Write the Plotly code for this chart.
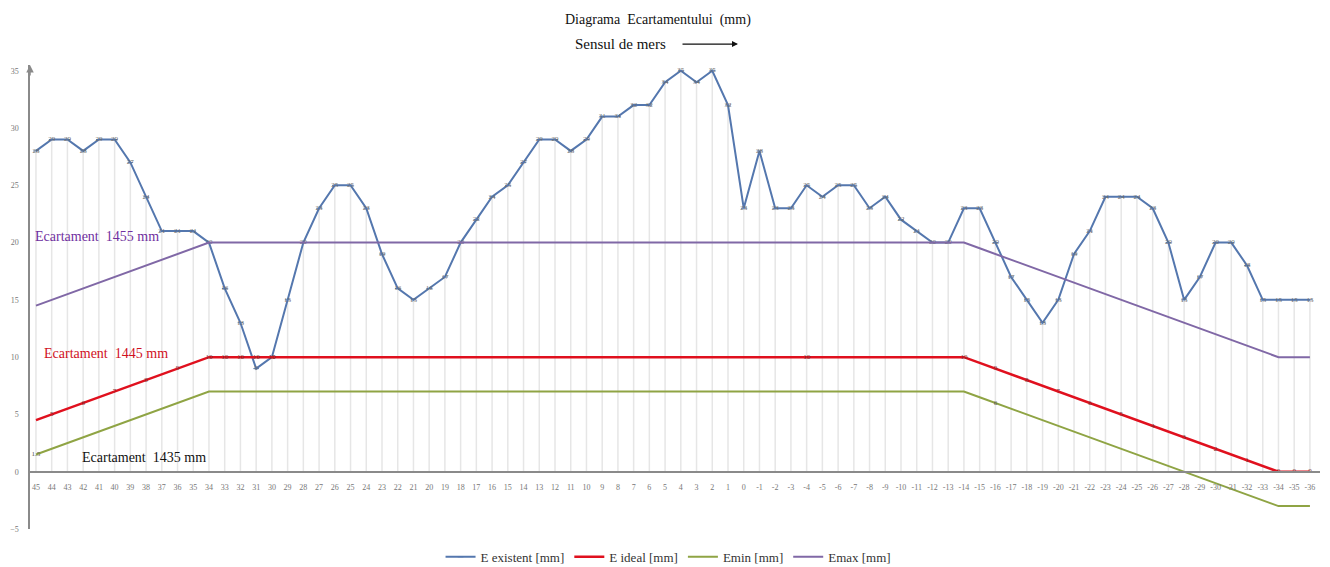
import plotly.graph_objects as go

# Track positions (chainage labels along the x axis)
categories = ["45", "44", "43", "42", "41", "40", "39", "38", "37", "36",
              "35", "34", "33", "32", "31", "30", "29", "28", "27", "26",
              "25", "24", "23", "22", "21", "20", "19", "18", "17", "16",
              "15", "14", "13", "12", "11", "10", "9", "8", "7", "6",
              "5", "4", "3", "2", "1", "0", "-1", "-2", "-3", "-4",
              "-5", "-6", "-7", "-8", "-9", "-10", "-11", "-12", "-13", "-14",
              "-15", "-16", "-17", "-18", "-19", "-20", "-21", "-22", "-23", "-24",
              "-25", "-26", "-27", "-28", "-29", "-30", "-31", "-32", "-33", "-34",
              "-35", "-36"]

# Measured gauge deviation (mm above 1435)
e_existent = [28, 29, 29, 28, 29, 29, 27, 24, 21, 21,
              21, 20, 16, 13, 9, 10, 15, 20, 23, 25,
              25, 23, 19, 16, 15, 16, 17, 20, 22, 24,
              25, 27, 29, 29, 28, 29, 31, 31, 32, 32,
              34, 35, 34, 35, 32, 23, 28, 23, 23, 25,
              24, 25, 25, 23, 24, 22, 21, 20, 20, 23,
              23, 20, 17, 15, 13, 15, 19, 21, 24, 24,
              24, 23, 20, 15, 17, 20, 20, 18, 15, 15,
              15, 15]

# Design gauge deviation
e_ideal = [4.5, 5, 5.5, 6, 6.5, 7, 7.5, 8, 8.5, 9,
           9.5, 10, 10, 10, 10, 10, 10, 10, 10, 10,
           10, 10, 10, 10, 10, 10, 10, 10, 10, 10,
           10, 10, 10, 10, 10, 10, 10, 10, 10, 10,
           10, 10, 10, 10, 10, 10, 10, 10, 10, 10,
           10, 10, 10, 10, 10, 10, 10, 10, 10, 10,
           9.5, 9, 8.5, 8, 7.5, 7, 6.5, 6, 5.5, 5,
           4.5, 4, 3.5, 3, 2.5, 2, 1.5, 1, 0.5, 0,
           0, 0]

# Lower tolerance
e_min = [1.5, 2, 2.5, 3, 3.5, 4, 4.5, 5, 5.5, 6,
         6.5, 7, 7, 7, 7, 7, 7, 7, 7, 7,
         7, 7, 7, 7, 7, 7, 7, 7, 7, 7,
         7, 7, 7, 7, 7, 7, 7, 7, 7, 7,
         7, 7, 7, 7, 7, 7, 7, 7, 7, 7,
         7, 7, 7, 7, 7, 7, 7, 7, 7, 7,
         6.5, 6, 5.5, 5, 4.5, 4, 3.5, 3, 2.5, 2,
         1.5, 1, 0.5, 0, -0.5, -1, -1.5, -2, -2.5, -3,
         -3, -3]

# Upper tolerance
e_max = [14.5, 15, 15.5, 16, 16.5, 17, 17.5, 18, 18.5, 19,
         19.5, 20, 20, 20, 20, 20, 20, 20, 20, 20,
         20, 20, 20, 20, 20, 20, 20, 20, 20, 20,
         20, 20, 20, 20, 20, 20, 20, 20, 20, 20,
         20, 20, 20, 20, 20, 20, 20, 20, 20, 20,
         20, 20, 20, 20, 20, 20, 20, 20, 20, 20,
         19.5, 19, 18.5, 18, 17.5, 17, 16.5, 16, 15.5, 15,
         14.5, 14, 13.5, 13, 12.5, 12, 11.5, 11, 10.5, 10,
         10, 10]

# Points of the ideal / minimum lines that carry a value label
ideal_labelled = {"44", "42", "40", "38", "36", "34", "33", "32", "31", "30",
                  "-4", "-14", "-16", "-18", "-20", "-22", "-24", "-26", "-28",
                  "-30", "-32", "-34", "-35", "-36"}
min_labelled = {"45", "-16"}


def fmt(v):
    return str(int(v)) if float(v).is_integer() else str(v)


ideal_text = [fmt(v) if c in ideal_labelled else "" for c, v in zip(categories, e_ideal)]
min_text = [fmt(v) if c in min_labelled else "" for c, v in zip(categories, e_min)]

SERIF = "Liberation Serif, Times New Roman, serif"
C_BLUE = "#5477AE"
C_RED = "#E0101E"
C_GREEN = "#8FA444"
C_PURPLE = "#8068A6"

Y_MIN, Y_MAX = -5, 35.5

fig = go.Figure()

fig.add_trace(go.Scatter(
    x=categories, y=e_existent, name="E existent [mm]",
    mode="lines+markers+text", text=[fmt(v) for v in e_existent],
    textposition="middle center", textfont=dict(size=7, color="#6a6a6a", family=SERIF),
    line=dict(color=C_BLUE, width=2),
    marker=dict(size=4, color=C_BLUE, symbol="line-ew", line=dict(width=1, color=C_BLUE)),
    error_y=dict(type="data", symmetric=False, array=[0] * len(e_existent),
                 arrayminus=e_existent, width=0, thickness=1.5, color="#e6e6e6"),
))
fig.add_trace(go.Scatter(
    x=categories, y=e_ideal, name="E ideal [mm]",
    mode="lines+text", text=ideal_text, textposition="middle center",
    textfont=dict(size=7, color="#7a3030", family=SERIF),
    line=dict(color=C_RED, width=2.5),
))
fig.add_trace(go.Scatter(
    x=categories, y=e_min, name="Emin [mm]",
    mode="lines+text", text=min_text, textposition="middle center",
    textfont=dict(size=7, color="#555", family=SERIF),
    line=dict(color=C_GREEN, width=2),
))
fig.add_trace(go.Scatter(
    x=categories, y=e_max, name="Emax [mm]",
    mode="lines", line=dict(color=C_PURPLE, width=2),
))

annotations = [
    dict(text="Diagrama\u00a0\u00a0Ecartamentului\u00a0\u00a0(mm)", xref="paper", yref="paper",
         x=0.487, y=1.097, showarrow=False, xanchor="center", yanchor="middle",
         font=dict(family=SERIF, size=14, color="#111")),
    dict(text="Sensul de mers", xref="paper", yref="paper",
         x=(573 - 30) / 1290, y=1.045, showarrow=False, xanchor="left", yanchor="middle",
         font=dict(family=SERIF, size=15, color="#111")),
    dict(text="", xref="paper", yref="paper", x=(738 - 30) / 1290, y=1.045,
         ax=-57, ay=0, showarrow=True, arrowhead=2, arrowsize=1, arrowwidth=1.2,
         arrowcolor="#111"),
    dict(text="Ecartament\u00a0\u00a01455 mm", xref="x", yref="y", x=0, y=20.5,
         xshift=-3, showarrow=False, xanchor="left", yanchor="middle",
         font=dict(family=SERIF, size=14, color="#7030A0")),
    dict(text="Ecartament\u00a0\u00a01445 mm", xref="x", yref="y", x=0, y=10.3,
         xshift=6, showarrow=False, xanchor="left", yanchor="middle",
         font=dict(family=SERIF, size=14, color="#D0101E")),
    dict(text="Ecartament\u00a0\u00a01435 mm", xref="x", yref="y", x=0, y=1.2,
         xshift=44, showarrow=False, xanchor="left", yanchor="middle",
         font=dict(family=SERIF, size=14, color="#111")),
    # arrow tip at the top of the value axis
    dict(text="", xref="paper", yref="y", x=0, y=Y_MAX, ax=0, ay=12,
         showarrow=True, arrowhead=2, arrowsize=1, arrowwidth=1.5, arrowcolor="#8a8a8a"),
]

fig.update_layout(
    width=1330, height=567,
    margin=dict(l=30, r=10, t=65, b=38, autoexpand=False),
    paper_bgcolor="white", plot_bgcolor="white",
    showlegend=True,
    legend=dict(orientation="h", x=0.495, xanchor="center", y=-0.06, yanchor="middle",
                font=dict(family=SERIF, size=13, color="#333"), itemwidth=30,
                traceorder="normal"),
    annotations=annotations,
    xaxis=dict(type="category", range=[-0.38, 81.64], showgrid=False,
               anchor="free", position=(0 - Y_MIN) / (Y_MAX - Y_MIN),
               showline=True, linecolor="#8a8a8a",
               linewidth=1.5, ticks="", tickangle=0, ticklabelstandoff=8,
               tickfont=dict(family=SERIF, size=8, color="#777")),
    yaxis=dict(range=[Y_MIN, Y_MAX], tickvals=[-5, 0, 5, 10, 15, 20, 25, 30, 35],
               showgrid=False, zeroline=False, showline=True, linecolor="#8a8a8a",
               linewidth=1.5, ticks="", ticklabelstandoff=8,
               tickfont=dict(family=SERIF, size=8, color="#777")),
)

fig.write_html("out.html")
